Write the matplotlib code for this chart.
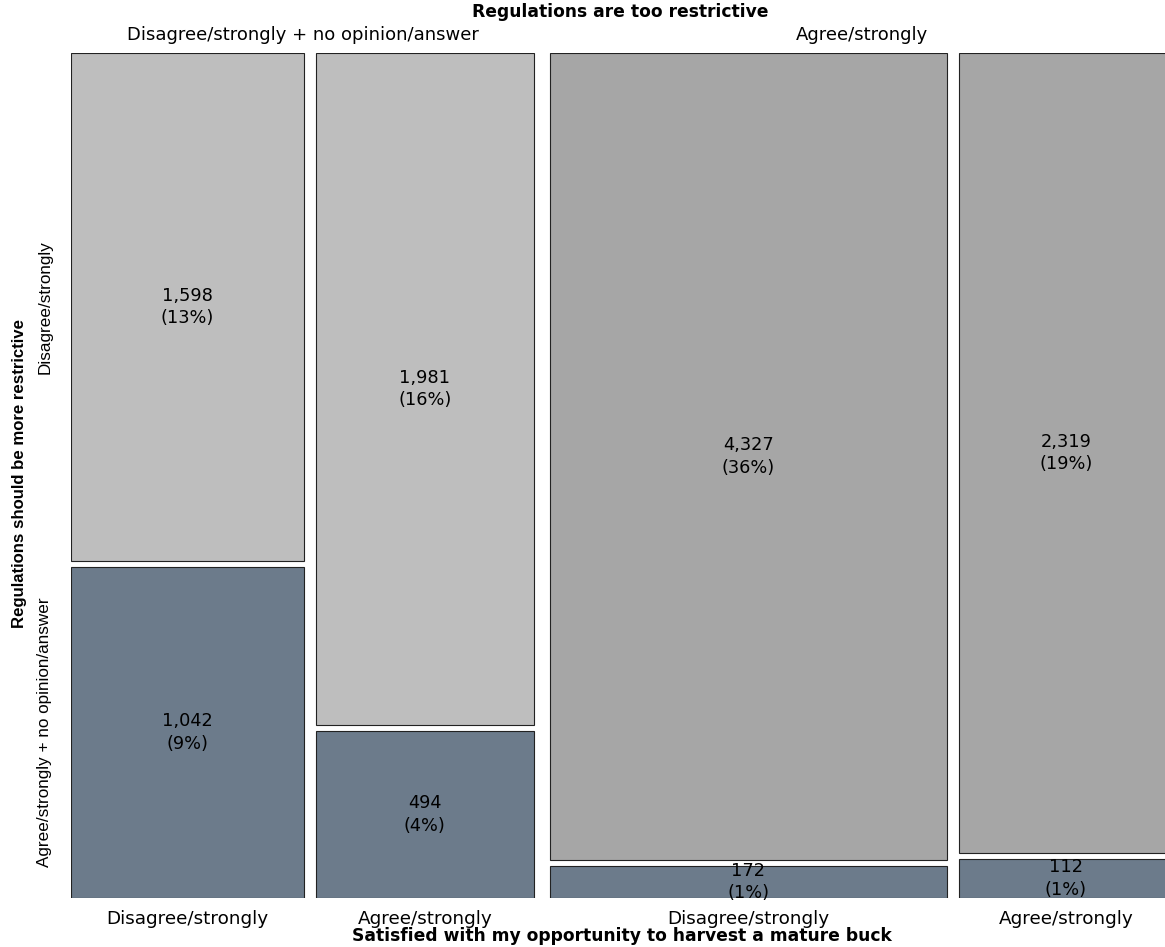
import matplotlib
matplotlib.use("Agg")
import matplotlib.pyplot as plt
from matplotlib import font_manager
from matplotlib.patches import Rectangle

# mosaic: too restrictive (outer columns) x satisfied (inner columns) x more restrictive (rows)
too_restrictive = ["Disagree/strongly + no opinion/answer", "Agree/strongly"]
satisfied = ["Disagree/strongly", "Agree/strongly"]
more_restrictive = ["Disagree/strongly", "Agree/strongly + no opinion/answer"]

# counts per cell: [too_restrictive][satisfied] -> (more_restrictive disagree, agree)
counts_disagree = [[1598, 1981], [4327, 2319]]
counts_agree = [[1042, 494], [172, 112]]

fill_top = ["#BEBEBE", "#A6A6A6"]
fill_bottom = "#6C7B8B"

plt.rcParams["font.family"] = ["DejaVu Sans"]

# condensed look for the rotated labels
try:
    font_manager.findfont("Liberation Sans Narrow", fallback_to_default=False)
    narrow, side_size = ["Liberation Sans Narrow"], 14.8
except ValueError:
    narrow, side_size = ["Liberation Sans", "DejaVu Sans"], 12.3

W, H = 1165, 947
fig = plt.figure(figsize=(W / 100, H / 100), dpi=100)
# plot region in pixels: x 71..1173 (runs past the right edge), y 53..898
px_left, px_right, px_top, px_bot = 71, 1173, 53, 898
ax = fig.add_axes([px_left / W, (H - px_bot) / H, (px_right - px_left) / W, (px_bot - px_top) / H])
ax.set_xlim(0, 1)
ax.set_ylim(0, 1)
ax.axis("off")

g_in = 12 / (px_right - px_left)
g_out = 16 / (px_right - px_left)
g_v = 6 / (px_bot - px_top)

total = sum(sum(r) for r in counts_disagree) + sum(sum(r) for r in counts_agree)
avail = 1 - 2 * g_in - g_out

x = 0.0
for i, group in enumerate(too_restrictive):
    group_start = x
    for j, sat in enumerate(satisfied):
        top_n = counts_disagree[i][j]
        bot_n = counts_agree[i][j]
        col_n = top_n + bot_n
        w = avail * col_n / total
        h_bot = (1 - g_v) * bot_n / col_n
        h_top = (1 - g_v) * top_n / col_n
        y_top0 = h_bot + g_v
        ax.add_patch(Rectangle((x, 0), w, h_bot, facecolor=fill_bottom, edgecolor="#222222", lw=0.8))
        ax.add_patch(Rectangle((x, y_top0), w, h_top, facecolor=fill_top[i], edgecolor="#222222", lw=0.8))
        cx = x + w / 2
        for n, yc in [(top_n, y_top0 + h_top / 2), (bot_n, h_bot / 2)]:
            ax.text(cx, yc, f"{n:,}\n({n / total:.0%})", ha="center", va="center",
                    fontsize=12.8, linespacing=1.32, clip_on=False)
        ax.text(cx, -21 / 845, sat, ha="center", va="center", fontsize=13.2, clip_on=False)
        x += w
        if j == 0:
            x += g_in
    ax.text((group_start + x) / 2, 1 + 18 / 845, group, ha="center", va="center",
            fontsize=13, clip_on=False)
    x += g_out

# row labels from the first column
first_n = counts_disagree[0][0] + counts_agree[0][0]
hb = (1 - g_v) * counts_agree[0][0] / first_n
ax.text(-26 / 1102, hb + g_v + (1 - hb - g_v) / 2, more_restrictive[0], rotation=90,
        ha="center", va="center", fontsize=side_size, family=narrow, clip_on=False)
ax.text(-26 / 1102, hb / 2, more_restrictive[1], rotation=90,
        ha="center", va="center", fontsize=side_size, family=narrow, clip_on=False)

fig.text(20 / W, 1 - 474 / H, "Regulations should be more restrictive", rotation=90,
         ha="center", va="center", fontsize=side_size * 0.98, fontweight="bold", family=narrow)
fig.text(620 / W, 1 - 12 / H, "Regulations are too restrictive", ha="center", va="center",
         fontsize=12.3, fontweight="bold")
fig.text(622 / W, 1 - 936 / H, "Satisfied with my opportunity to harvest a mature buck",
         ha="center", va="center", fontsize=12.3, fontweight="bold")

fig.savefig("out.png", dpi=100)
